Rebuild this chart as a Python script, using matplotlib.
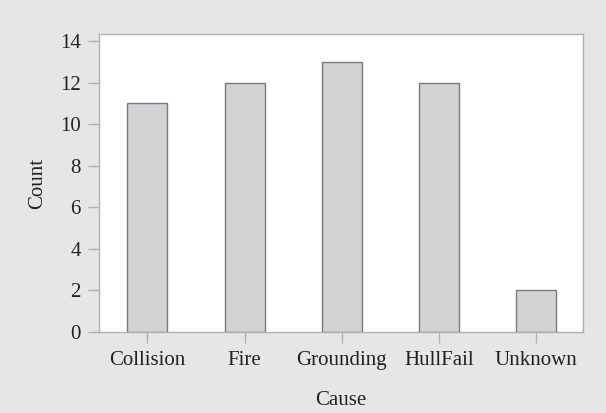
import matplotlib
matplotlib.use("Agg")
import matplotlib.pyplot as plt

causes = ["Collision", "Fire", "Grounding", "HullFail", "Unknown"]
counts = [11, 12, 13, 12, 2]

plt.rcParams["font.family"] = ["Liberation Serif", "DejaVu Serif"]

fig = plt.figure(figsize=(6.06, 4.13), dpi=100, facecolor="#e6e6e8")
ax = fig.add_axes([0.163, 0.196, 0.799, 0.722])
ax.set_facecolor("white")

ax.bar(range(len(causes)), counts, width=0.41,
       color="#d3d3d5", edgecolor="#7a7a7a", linewidth=1.0)

ax.set_xlim(-0.5, 4.48)
ax.set_ylim(0, 14.34)
ax.set_yticks(range(0, 15, 2))
ax.set_xticks(range(len(causes)))
ax.set_xticklabels(causes)

for s in ax.spines.values():
    s.set_color("#b0b0b0")
    s.set_linewidth(1.0)

ax.tick_params(axis="both", colors="#b0b0b0", length=8, width=1.0,
               labelcolor="#222222", labelsize=15)
ax.tick_params(axis="y", pad=5)
ax.tick_params(axis="x", pad=6)

ax.set_xlabel("Cause", fontsize=15, color="#222222", labelpad=15)
ax.set_ylabel("Count", fontsize=15, color="#222222", labelpad=9)

fig.savefig("out.png", dpi=100, facecolor=fig.get_facecolor())
